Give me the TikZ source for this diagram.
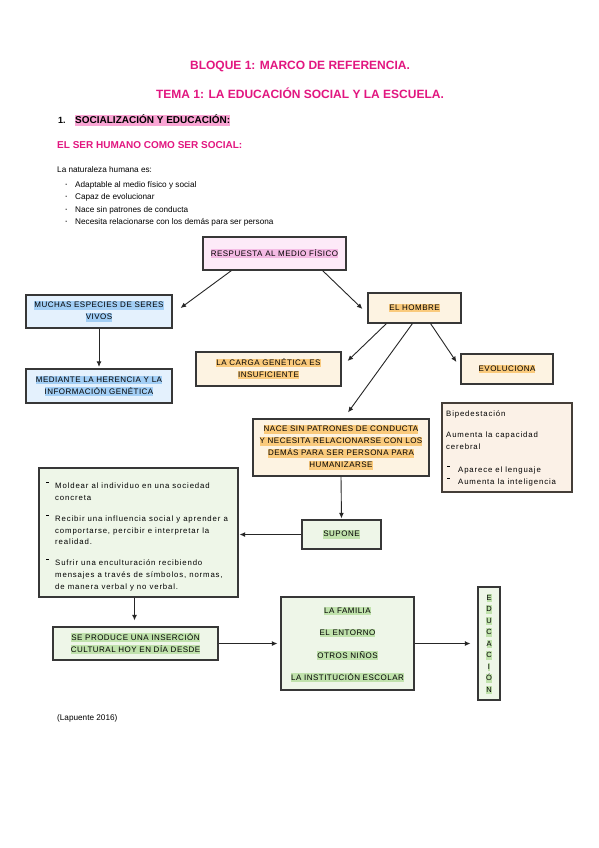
\documentclass[tikz,border=0pt]{standalone}
\usepackage{fontspec}
\setmainfont{Liberation Sans}
\usetikzlibrary{arrows.meta,calc}
\definecolor{mag}{RGB}{226,22,128}
\definecolor{hlpink}{RGB}{250,165,212}
\definecolor{pinkfill}{RGB}{253,234,248}
\definecolor{pinkhl}{RGB}{244,186,228}
\definecolor{orfill}{RGB}{253,243,226}
\definecolor{orhl}{RGB}{250,202,124}
\definecolor{bluefill}{RGB}{228,241,253}
\definecolor{bluehl}{RGB}{162,206,245}
\definecolor{greenfill}{RGB}{238,246,232}
\definecolor{greenhl}{RGB}{192,226,172}
\definecolor{bipfill}{RGB}{251,241,231}
\definecolor{bordc}{RGB}{55,55,55}
\newcommand\hlt[2]{{\setlength\fboxsep{0pt}\colorbox{#1}{\rule[-1.8pt]{0pt}{8.2pt}#2}}}
\begin{document}
\begin{tikzpicture}[x=1pt,y=-1pt,
  bx/.style={draw=bordc,line width=1.1pt,inner sep=0pt,align=center,
    font=\fontsize{8}{12}\selectfont\addfontfeature{LetterSpace=6}},
  pinkbox/.style={bx,fill=pinkfill},
  orbox/.style={bx,fill=orfill},
  bluebox/.style={bx,fill=bluefill},
  greenbox/.style={bx,fill=greenfill},
  arr/.style={-{Latex[length=5.5pt,width=4.8pt]},line width=0.9pt,draw=black!85},
  ln/.style={anchor=base west,inner sep=0pt,font=\fontsize{7.8}{10}\selectfont\addfontfeature{LetterSpace=11}},
  body/.style={anchor=base west,inner sep=0pt,font=\fontsize{8.2}{10}\selectfont},
  dsh/.style={anchor=west,inner sep=0pt}]
\useasboundingbox[fill=white] (0,0) rectangle (599,848);

% headings
\node[anchor=base,inner sep=0pt,text=mag,font=\fontsize{12}{14}\selectfont\bfseries] (t1) at (300,70) {BLOQUE 1: MARCO DE REFERENCIA.};
\node[anchor=base,inner sep=0pt,text=mag,font=\fontsize{12}{14}\selectfont\bfseries] (t2) at (300,99) {TEMA 1: LA EDUCACIÓN SOCIAL Y LA ESCUELA.};
\node[anchor=base west,inner sep=0pt,font=\fontsize{9}{10}\selectfont\bfseries] (n1) at (58,124) {1.};
\node[anchor=base west,inner sep=0pt,font=\fontsize{10}{12}\selectfont\bfseries] (s1) at (75,124) {{\setlength\fboxsep{0pt}\colorbox{hlpink}{\rule[-2.2pt]{0pt}{9.8pt}SOCIALIZACIÓN Y EDUCACIÓN:}}};
\node[anchor=base west,inner sep=0pt,text=mag,font=\fontsize{10}{12}\selectfont\bfseries] (s2) at (57,148) {EL SER HUMANO COMO SER SOCIAL:};
\node[body] (nat) at (57,172) {La naturaleza humana es:};
\node[body,font=\fontsize{10}{10}\selectfont] (d1) at (64.5,187.5) {·};
\node[body] (l1) at (75,187) {Adaptable al medio físico y social};
\node[body,font=\fontsize{10}{10}\selectfont] (d2) at (64.5,199.5) {·};
\node[body] (l2) at (75,199) {Capaz de evolucionar};
\node[body,font=\fontsize{10}{10}\selectfont] (d3) at (64.5,212.5) {·};
\node[body] (l3) at (75,212) {Nace sin patrones de conducta};
\node[body,font=\fontsize{10}{10}\selectfont] (d4) at (64.5,224.5) {·};
\node[body] (l4) at (75,224) {Necesita relacionarse con los demás para ser persona};

% boxes
\node[pinkbox,minimum width=143pt,minimum height=33pt] (resp) at (274.5,253.5) {\hlt{pinkhl}{RESPUESTA AL MEDIO FÍSICO}};
\node[orbox,minimum width=93pt,minimum height=30pt] (hombre) at (414.5,308) {\hlt{orhl}{EL HOMBRE}};
\node[orbox,minimum width=145pt,minimum height=34pt] (carga) at (268.5,369) {\hlt{orhl}{LA CARGA GENÉTICA ES}\\\hlt{orhl}{INSUFICIENTE}};
\node[orbox,minimum width=92pt,minimum height=30pt] (evol) at (507,369) {\hlt{orhl}{EVOLUCIONA}};
\node[bluebox,minimum width=146pt,minimum height=33pt] (muchas) at (99,311.5) {\hlt{bluehl}{MUCHAS ESPECIES DE SERES}\\\hlt{bluehl}{VIVOS}};
\node[bluebox,minimum width=146pt,minimum height=34pt] (mediante) at (99,386) {\hlt{bluehl}{MEDIANTE LA HERENCIA Y LA}\\\hlt{bluehl}{INFORMACIÓN GENÉTICA}};
\node[orbox,minimum width=176pt,minimum height=57pt] (nace) at (341,447.5) {\hlt{orhl}{NACE SIN PATRONES DE CONDUCTA}\\\hlt{orhl}{Y NECESITA RELACIONARSE CON LOS}\\\hlt{orhl}{DEMÁS PARA SER PERSONA PARA}\\\hlt{orhl}{HUMANIZARSE}};
\node[bx,draw=bordc!90!brown,fill=bipfill,minimum width=130pt,minimum height=89pt] (biped) at (507,447.5) {};
\node[greenbox,minimum width=79pt,minimum height=29pt] (supone) at (341.5,534.5) {\hlt{greenhl}{SUPONE}};
\node[greenbox,minimum width=199pt,minimum height=129pt] (big) at (138.5,532.5) {};
\node[greenbox,minimum width=165pt,minimum height=33pt] (seprod) at (135.5,643.5) {\hlt{greenhl}{SE PRODUCE UNA INSERCIÓN}\\\hlt{greenhl}{CULTURAL HOY EN DÍA DESDE}};
\node[greenbox,minimum width=133pt,minimum height=93pt] (familia) at (347.5,643.5) {};
\node[greenbox,minimum width=22pt,minimum height=113pt] (educ) at (489,643.5) {};

% texts inside biped box
\node[ln] (bp1) at (446,416) {Bipedestación};
\node[ln] (bp2) at (446,437) {Aumenta la capacidad};
\node[ln] (bp3) at (446,449) {cerebral};
\node[dsh] (bpd1) at (447,466) {\rule{3pt}{0.8pt}};
\node[ln] (bp4) at (458,472) {Aparece el lenguaje};
\node[dsh] (bpd2) at (447,478) {\rule{3pt}{0.8pt}};
\node[ln] (bp5) at (458,484) {Aumenta la inteligencia};

% texts inside big box
\node[dsh] (bd1) at (46,482) {\rule{3pt}{0.8pt}};
\node[ln] (b1a) at (55,488) {Moldear al individuo en una sociedad};
\node[ln] (b1b) at (55,500) {concreta};
\node[dsh] (bd2) at (46,515) {\rule{3pt}{0.8pt}};
\node[ln] (b2a) at (55,521) {Recibir una influencia social y aprender a};
\node[ln] (b2b) at (55,533) {comportarse, percibir e interpretar la};
\node[ln] (b2c) at (55,544) {realidad.};
\node[dsh] (bd3) at (46,559) {\rule{3pt}{0.8pt}};
\node[ln] (b3a) at (55,565) {Sufrir una enculturación recibiendo};
\node[ln] (b3b) at (55,577) {mensajes a través de símbolos, normas,};
\node[ln] (b3c) at (55,589) {de manera verbal y no verbal.};

% texts inside familia box
\node[bx,draw=none,anchor=base] (f1) at (347.5,613) {\hlt{greenhl}{LA FAMILIA}};
\node[bx,draw=none,anchor=base] (f2) at (347.5,635) {\hlt{greenhl}{EL ENTORNO}};
\node[bx,draw=none,anchor=base] (f3) at (347.5,658) {\hlt{greenhl}{OTROS NIÑOS}};
\node[bx,draw=none,anchor=base] (f4) at (347.5,680) {\hlt{greenhl}{LA INSTITUCIÓN ESCOLAR}};

% vertical word
\node[inner sep=0pt,align=center,font=\fontsize{7.5}{11.5}\selectfont] (educt) at (489,644) {\hlt{greenhl}{E}\\\hlt{greenhl}{D}\\\hlt{greenhl}{U}\\\hlt{greenhl}{C}\\\hlt{greenhl}{A}\\\hlt{greenhl}{C}\\\hlt{greenhl}{I}\\\hlt{greenhl}{Ó}\\\hlt{greenhl}{N}};

\node[body] (lap) at (57,720) {(Lapuente 2016)};

% connectors
\coordinate (bs) at ([xshift=-4pt]big.south);
\draw[arr] ([xshift=29pt]resp.south west) -- ([xshift=8pt,yshift=3.5pt]muchas.east);
\draw[arr] ([xshift=-24pt]resp.south east) -- ([xshift=-5pt,yshift=-1pt]hombre.west);
\draw[arr] ([xshift=19pt]hombre.south west) -- ([xshift=6pt,yshift=8pt]carga.east);
\draw[arr] ([xshift=45pt]hombre.south west) -- ([xshift=7pt,yshift=6pt]nace.north);
\draw[arr] ([xshift=-31pt]hombre.south east) -- ([xshift=-4pt,yshift=7pt]evol.west);
\draw[arr] (muchas.south) -- ([yshift=1.5pt]mediante.north);
\draw[arr] (nace.south) -- ([yshift=1pt]supone.north);
\draw[arr] (supone.west) -- ([xshift=1pt]supone.west -| big.east);
\draw[arr,shorten >=6pt] (bs) -- (bs |- seprod.north);
\draw[arr] (seprod.east) -- ([xshift=-3pt]familia.west);
\draw[arr] (familia.east) -- ([xshift=-7pt]educ.west);
\end{tikzpicture}
\end{document}
